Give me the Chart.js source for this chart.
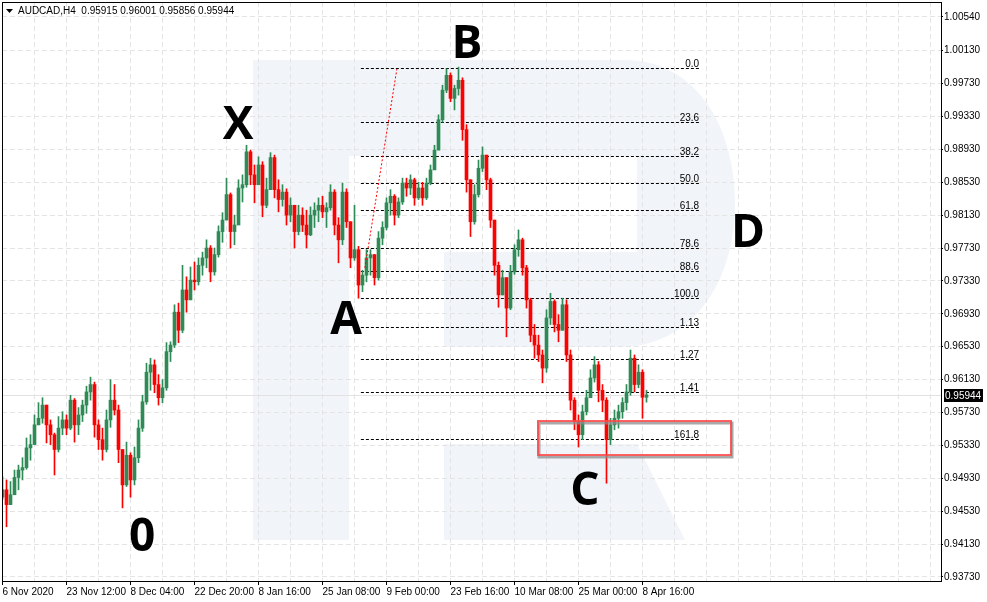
<!DOCTYPE html>
<html>
<head>
<meta charset="utf-8">
<script src="https://cdn.jsdelivr.net/npm/chart.js@4.4.1/dist/chart.umd.min.js"></script>
<style>
    html, body { margin: 0; padding: 0; background: #fff; }
    #wrap { width: 987px; height: 602px; }
</style>
</head>
<body>
<div id="wrap"><canvas id="chart" width="987" height="602"></canvas></div>
<script>
// AUDCAD H4, candles (each candle here ~ 4 px of the original)
const symbolTitle = 'AUDCAD,H4  0.95915 0.96001 0.95856 0.95944';
const dateLabels = ['6 Nov 2020', '23 Nov 12:00', '8 Dec 04:00', '22 Dec 20:00', '8 Jan 16:00', '25 Jan 08:00',
    '9 Feb 00:00', '23 Feb 16:00', '10 Mar 08:00', '25 Mar 00:00', '8 Apr 16:00'];
const yTickValues = [0.93730, 0.94130, 0.94530, 0.94930, 0.95330, 0.95730, 0.96130, 0.96530, 0.96930,
    0.97330, 0.97730, 0.98130, 0.98530, 0.98930, 0.99330, 0.99730, 1.00130, 1.00540];

const firstOpen = 0.9470;
const closes = [
    .9479, .9461, .9473, .9494, .9503, .9506, .9530, .9534, .9558, .9566,
    .9582, .9558, .9546, .9528, .9554, .9564, .9554, .9588, .9558, .9570,
    .9582, .9598, .9607, .9558, .9540, .9528, .9564, .9588, .9576, .9528,
    .9485, .9521, .9491, .9518, .9554, .9586, .9622, .9631, .9607, .9591,
    .9603, .9647, .9655, .9695, .9673, .9722, .9710, .9734, .9732, .9752,
    .9761, .9773, .9744, .9765, .9793, .9807, .9838, .9793, .9801, .9846,
    .9850, .9890, .9862, .9850, .9874, .9825, .9844, .9883, .9844, .9832,
    .9841, .9813, .9825, .9793, .9813, .9801, .9789, .9813, .9819, .9825,
    .9817, .9822, .9841, .9801, .9783, .9841, .9805, .9761, .9771, .9728,
    .9740, .9761, .9765, .9737, .9785, .9798, .9828, .9836, .9813, .9829,
    .9852, .9846, .9856, .9834, .9846, .9834, .9852, .9868, .9892, .9929,
    .9965, .9983, .9955, .9967, .9977, .9917, .9856, .9805, .9838, .9870,
    .9886, .9856, .9807, .9752, .9716, .9737, .9700, .9744, .9771, .9783,
    .9749, .9710, .9667, .9655, .9643, .9627, .9688, .9708, .9680, .9673,
    .9704, .9643, .9588, .9562, .9546, .9574, .9591, .9615, .9631, .9600,
    .9588, .9540, .9558, .9566, .9574, .9585, .9598, .9639, .9607, .9622,
    .95915, .95944
];
const highs = [
    .9495, .9491, .9489, .9503, .9509, .9518, .9542, .9546, .9570, .9585,
    .9591, .9582, .9564, .9548, .9568, .9574, .9570, .9594, .9590, .9579,
    .9588, .9605, .9616, .9610, .9564, .9554, .9576, .9613, .9607, .9582,
    .9528, .9537, .9524, .9531, .9564, .9594, .9633, .9639, .9637, .9619,
    .9613, .9658, .9659, .9704, .9706, .9752, .9738, .9750, .9756, .9761,
    .9768, .9783, .9776, .9773, .9800, .9816, .9858, .9840, .9813, .9856,
    .9862, .9898, .9892, .9874, .9884, .9878, .9858, .9889, .9886, .9856,
    .9850, .9845, .9834, .9825, .9825, .9822, .9819, .9823, .9828, .9834,
    .9836, .9828, .9850, .9844, .9810, .9852, .9845, .9805, .9825, .9775,
    .9746, .9771, .9771, .9765, .9793, .9805, .9834, .9844, .9838, .9834,
    .9858, .9858, .9862, .9858, .9853, .9853, .9858, .9874, .9898, .9935,
    .9971, .9991, .9986, .9971, .9993, .9980, .9923, .9856, .9850, .9880,
    .9896, .9886, .9858, .9807, .9756, .9746, .9737, .9752, .9777, .9795,
    .9785, .9752, .9712, .9680, .9667, .9649, .9698, .9718, .9710, .9692,
    .9712, .9710, .9649, .9591, .9570, .9582, .9600, .9625, .9641, .9635,
    .9607, .9591, .9566, .9576, .9582, .9591, .9607, .9649, .9643, .9631,
    .9625, .96001
];
const lows = [
    .9467, .9434, .9461, .9473, .9479, .9491, .9504, .9515, .9534, .9558,
    .9560, .9536, .9534, .9497, .9525, .9546, .9546, .9552, .9537, .9546,
    .9562, .9572, .9588, .9543, .9528, .9515, .9525, .9555, .9570, .9512,
    .9457, .9483, .9470, .9485, .9512, .9550, .9583, .9600, .9597, .9582,
    .9585, .9600, .9635, .9652, .9658, .9670, .9695, .9710, .9722, .9728,
    .9740, .9749, .9732, .9740, .9762, .9780, .9813, .9773, .9777, .9813,
    .9829, .9847, .9850, .9828, .9850, .9811, .9822, .9856, .9834, .9817,
    .9824, .9801, .9805, .9773, .9789, .9793, .9773, .9788, .9798, .9805,
    .9810, .9798, .9819, .9789, .9755, .9777, .9798, .9749, .9758, .9712,
    .9720, .9732, .9740, .9728, .9734, .9777, .9795, .9813, .9801, .9810,
    .9826, .9836, .9838, .9825, .9832, .9825, .9832, .9850, .9870, .9898,
    .9926, .9962, .9951, .9941, .9959, .9904, .9841, .9787, .9802, .9835,
    .9866, .9844, .9798, .9740, .9701, .9716, .9665, .9698, .9741, .9763,
    .9740, .9700, .9659, .9639, .9635, .9609, .9622, .9680, .9671, .9659,
    .9673, .9635, .9576, .9552, .9531, .9540, .9570, .9591, .9610, .9586,
    .9574, .9487, .9534, .9552, .9554, .9566, .9576, .9594, .9598, .9603,
    .9566, .95856
];
const opens = [firstOpen, ...closes.slice(0, -1)];

// Fibonacci tool drawn on the chart
const fibLabels = ['0.0', '23.6', '38.2', '50.0', '61.8', '78.6', '88.6', '100.0', '1.13', '1.27', '1.41', '161.8'];
const fibPrices = [0.9992, 0.9926, 0.9885, 0.9852, 0.9819, 0.9773, 0.9745, 0.9712, 0.9677, 0.9638, 0.9598, 0.95405];
const fibFrom = 89.6, fibTo = 174.4;

// wave labels
const waveNames = ['0', 'X', 'A', 'B', 'C', 'D'];
const waveX = [34.9, 58.9, 85.9, 116.1, 145.6, 186.4];
const waveY = [0.94241, 0.99251, 0.96880, 1.00236, 0.94801, 0.97938];

// target zone box + red dotted trend line
const zoneX = [133.9, 182.1], zoneY = [0.95628, 0.95214];
const trendX = [90.6, 98.6], trendY = [0.97488, 0.99908];

const GREEN = 'rgb(46,139,87)';
const RED = 'rgb(255,0,0)';
const candleColors = closes.map((c, i) => c >= opens[i] ? GREEN : RED);

Chart.defaults.font.family = '"Liberation Sans", Arial, sans-serif';
Chart.defaults.font.size = 10;
Chart.defaults.color = '#000';

function drawLogo(ctx) {
    ctx.fillStyle = '#f1f5f9';
    ctx.fillRect(253, 60, 96, 480);
    ctx.beginPath();
    ctx.moveTo(349, 60);
    ctx.lineTo(625, 60);
    ctx.bezierCurveTo(695, 60, 735, 125, 735, 203);
    ctx.bezierCurveTo(735, 285, 690, 347, 620, 347);
    ctx.lineTo(444, 347);
    ctx.lineTo(444, 252);
    ctx.lineTo(637, 252);
    ctx.lineTo(637, 156);
    ctx.lineTo(349, 156);
    ctx.closePath();
    ctx.fill();
    ctx.beginPath();
    ctx.moveTo(444, 444);
    ctx.lineTo(637, 444);
    ctx.lineTo(685, 540);
    ctx.lineTo(444, 540);
    ctx.closePath();
    ctx.fill();
}

const decor = {
    id: 'decor',
    beforeDraw(chart) {
        const ctx = chart.ctx;
        ctx.save();
        ctx.fillStyle = '#fff';
        ctx.fillRect(0, 0, chart.width, chart.height);
        drawLogo(ctx);
        ctx.restore();
    },
    beforeDatasetsDraw(chart) {
        const { ctx, chartArea: a, scales: { x, y } } = chart;
        ctx.save();
        // current price line
        const pp = Math.round(y.getPixelForValue(closes[closes.length - 1])) + 0.5;
        ctx.strokeStyle = '#e2e2e2';
        ctx.lineWidth = 1;
        ctx.beginPath();
        ctx.moveTo(a.left, pp);
        ctx.lineTo(a.right, pp);
        ctx.stroke();
        // fibo levels
        const x0 = x.getPixelForValue(fibFrom), x1 = x.getPixelForValue(fibTo);
        ctx.strokeStyle = '#000';
        ctx.setLineDash([3, 2]);
        ctx.font = '10px "Liberation Sans"';
        ctx.fillStyle = '#000';
        ctx.textAlign = 'right';
        ctx.textBaseline = 'alphabetic';
        fibPrices.forEach((p, i) => {
            const py = Math.round(y.getPixelForValue(p)) + 0.5;
            ctx.beginPath();
            ctx.moveTo(x0, py);
            ctx.lineTo(x1, py);
            ctx.stroke();
            ctx.fillText(fibLabels[i], x1 - 1, py - 2);
        });
        ctx.restore();
    },
    afterDatasetsDraw(chart) {
        const { ctx, scales: { x, y } } = chart;
        ctx.save();
        // red dotted line
        ctx.strokeStyle = RED;
        ctx.lineWidth = 1;
        ctx.setLineDash([2, 2]);
        ctx.beginPath();
        ctx.moveTo(x.getPixelForValue(trendX[0]), y.getPixelForValue(trendY[0]));
        ctx.lineTo(x.getPixelForValue(trendX[1]), y.getPixelForValue(trendY[1]));
        ctx.stroke();
        ctx.setLineDash([]);
        // zone box
        const bx0 = Math.round(x.getPixelForValue(zoneX[0])), bx1 = Math.round(x.getPixelForValue(zoneX[1]));
        const by0 = Math.round(y.getPixelForValue(zoneY[0])), by1 = Math.round(y.getPixelForValue(zoneY[1]));
        ctx.strokeStyle = 'rgba(140,140,140,0.75)';
        ctx.lineWidth = 3;
        ctx.strokeRect(bx0 + 1, by0 + 2, bx1 - bx0, by1 - by0);
        ctx.strokeStyle = 'rgba(255,70,70,0.85)';
        ctx.lineWidth = 2;
        ctx.strokeRect(bx0, by0, bx1 - bx0, by1 - by0);
        // wave letters
        ctx.fillStyle = '#000';
        ctx.font = '700 46px "Open Sans"';
        ctx.textAlign = 'center';
        ctx.textBaseline = 'alphabetic';
        waveNames.forEach((t, i) => {
            ctx.fillText(t, x.getPixelForValue(waveX[i]), y.getPixelForValue(waveY[i]) + 16.5);
        });
        ctx.restore();
    },
    afterDraw(chart) {
        const { ctx, chartArea: a, scales: { y } } = chart;
        ctx.save();
        ctx.fillStyle = '#000';
        ctx.fillRect(a.left, a.top, 1, a.bottom - a.top);
        ctx.fillRect(a.left, a.top, a.right - a.left, 1);
        // title
        ctx.beginPath();
        ctx.moveTo(6, 9);
        ctx.lineTo(13, 9);
        ctx.lineTo(9.5, 13);
        ctx.closePath();
        ctx.fill();
        ctx.font = '10px "Liberation Sans"';
        ctx.textAlign = 'left';
        ctx.textBaseline = 'alphabetic';
        ctx.fillText(symbolTitle, 18, 14);
        // price label
        const last = closes[closes.length - 1];
        const py = Math.round(y.getPixelForValue(last));
        ctx.fillRect(a.right + 3, py - 6, 39, 13);
        ctx.fillStyle = '#fff';
        ctx.fillText(last.toFixed(5), a.right + 4, py + 4);
        ctx.restore();
    }
};

const ctx = document.getElementById('chart').getContext('2d');
new Chart(ctx, {
    type: 'bar',
    data: {
        datasets: [
            {
                label: 'body',
                data: closes.map((c, i) => ({ x: i, y: [opens[i], c] })),
                backgroundColor: candleColors,
                barThickness: 3,
                grouped: false,
                borderWidth: 0
            },
            {
                label: 'wick',
                data: highs.map((h, i) => ({ x: i, y: [lows[i], h] })),
                backgroundColor: candleColors,
                barThickness: 1,
                grouped: false,
                borderWidth: 0
            }
        ]
    },
    options: {
        responsive: false,
        animation: false,
        devicePixelRatio: 1,
        layout: { padding: { left: 2, top: 2, right: 0, bottom: 0 } },
        plugins: {
            legend: { display: false },
            tooltip: { enabled: false },
            title: { display: false }
        },
        scales: {
            x: {
                type: 'linear',
                min: -0.125,
                max: 234.625,
                offset: false,
                afterBuildTicks(scale) {
                    const t = [];
                    for (let v = 0; v <= 232; v += 8) t.push({ value: v });
                    scale.ticks = t;
                },
                afterFit(scale) {
                    scale.height = 21;
                    scale.paddingLeft = 0;
                    scale.paddingRight = 0;
                },
                ticks: {
                    autoSkip: false,
                    maxRotation: 0,
                    align: 'start',
                    padding: 1,
                    font: { size: 10 },
                    callback(value) {
                        const k = value / 16;
                        return Number.isInteger(k) && k < dateLabels.length ? dateLabels[k] : '';
                    }
                },
                grid: {
                    offset: false,
                    color: '#e4e4e4',
                    tickLength: 4,
                    tickColor: c => (c.tick && c.tick.value % 16 === 0 && c.tick.value <= 160) ? '#000' : 'rgba(0,0,0,0)'
                },
                border: { color: '#000', width: 1, dash: [5, 3] }
            },
            y: {
                type: 'linear',
                position: 'right',
                min: 0.93681,
                max: 1.00722,
                beginAtZero: false,
                afterBuildTicks(scale) {
                    scale.ticks = yTickValues.map(v => ({ value: v }));
                },
                afterFit(scale) {
                    scale.width = 46;
                    scale.paddingTop = 0;
                    scale.paddingBottom = 0;
                },
                ticks: {
                    padding: 1,
                    font: { size: 10 },
                    callback(value) { return value.toFixed(5); }
                },
                grid: {
                    color: '#e4e4e4',
                    tickLength: 2,
                    tickColor: '#000'
                },
                border: { color: '#000', width: 1, dash: [5, 3] }
            }
        }
    },
    plugins: [decor]
});
</script>
</body>
</html>
